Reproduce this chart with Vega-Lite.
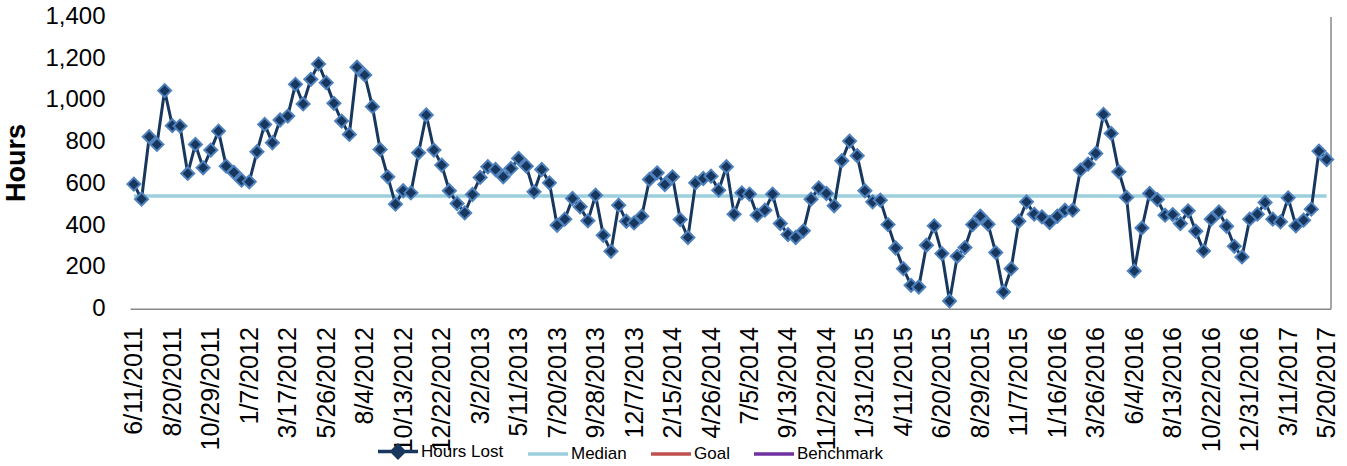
{
  "$schema": "https://vega.github.io/schema/vega-lite/v6.json",
  "autosize": {"type": "none"},
  "width": 1200.5,
  "height": 292.2,
  "padding": {"left": 130, "top": 16.5, "right": 16.5, "bottom": 157.3},
  "background": "white",
  "config": {"view": {"stroke": null}, "font": "Liberation Sans"},
  "data": {"values": [
    {"d":"6/11/2011","h":597,"m":540},{"d":"6/25/2011","h":525,"m":540},{"d":"7/9/2011","h":824,"m":540},{"d":"7/23/2011","h":787,"m":540},{"d":"8/6/2011","h":1045,"m":540},
    {"d":"8/20/2011","h":877,"m":540},{"d":"9/3/2011","h":875,"m":540},{"d":"9/17/2011","h":648,"m":540},{"d":"10/1/2011","h":787,"m":540},{"d":"10/15/2011","h":675,"m":540},
    {"d":"10/29/2011","h":760,"m":540},{"d":"11/12/2011","h":851,"m":540},{"d":"11/26/2011","h":683,"m":540},{"d":"12/10/2011","h":653,"m":540},{"d":"12/24/2011","h":616,"m":540},
    {"d":"1/7/2012","h":608,"m":540},{"d":"1/21/2012","h":752,"m":540},{"d":"2/4/2012","h":883,"m":540},{"d":"2/18/2012","h":795,"m":540},{"d":"3/3/2012","h":904,"m":540},
    {"d":"3/17/2012","h":923,"m":540},{"d":"3/31/2012","h":1075,"m":540},{"d":"4/14/2012","h":981,"m":540},{"d":"4/28/2012","h":1099,"m":540},{"d":"5/12/2012","h":1173,"m":540},
    {"d":"5/26/2012","h":1083,"m":540},{"d":"6/9/2012","h":984,"m":540},{"d":"6/23/2012","h":899,"m":540},{"d":"7/7/2012","h":835,"m":540},{"d":"7/21/2012","h":1157,"m":540},
    {"d":"8/4/2012","h":1120,"m":540},{"d":"8/18/2012","h":968,"m":540},{"d":"9/1/2012","h":763,"m":540},{"d":"9/15/2012","h":632,"m":540},{"d":"9/29/2012","h":501,"m":540},
    {"d":"10/13/2012","h":565,"m":540},{"d":"10/27/2012","h":555,"m":540},{"d":"11/10/2012","h":747,"m":540},{"d":"11/24/2012","h":928,"m":540},{"d":"12/8/2012","h":760,"m":540},
    {"d":"12/22/2012","h":688,"m":540},{"d":"1/5/2013","h":565,"m":540},{"d":"1/19/2013","h":504,"m":540},{"d":"2/2/2013","h":459,"m":540},{"d":"2/16/2013","h":547,"m":540},
    {"d":"3/2/2013","h":629,"m":540},{"d":"3/16/2013","h":680,"m":540},{"d":"3/30/2013","h":667,"m":540},{"d":"4/13/2013","h":632,"m":540},{"d":"4/27/2013","h":672,"m":540},
    {"d":"5/11/2013","h":720,"m":540},{"d":"5/25/2013","h":683,"m":540},{"d":"6/8/2013","h":560,"m":540},{"d":"6/22/2013","h":667,"m":540},{"d":"7/6/2013","h":603,"m":540},
    {"d":"7/20/2013","h":400,"m":540},{"d":"8/3/2013","h":429,"m":540},{"d":"8/17/2013","h":528,"m":540},{"d":"8/31/2013","h":488,"m":540},{"d":"9/14/2013","h":421,"m":540},
    {"d":"9/28/2013","h":544,"m":540},{"d":"10/12/2013","h":352,"m":540},{"d":"10/26/2013","h":275,"m":540},{"d":"11/9/2013","h":496,"m":540},{"d":"11/23/2013","h":419,"m":540},
    {"d":"12/7/2013","h":411,"m":540},{"d":"12/21/2013","h":443,"m":540},{"d":"1/4/2014","h":619,"m":540},{"d":"1/18/2014","h":651,"m":540},{"d":"2/1/2014","h":595,"m":540},
    {"d":"2/15/2014","h":632,"m":540},{"d":"3/1/2014","h":427,"m":540},{"d":"3/15/2014","h":341,"m":540},{"d":"3/29/2014","h":603,"m":540},{"d":"4/12/2014","h":624,"m":540},
    {"d":"4/26/2014","h":635,"m":540},{"d":"5/10/2014","h":568,"m":540},{"d":"5/24/2014","h":680,"m":540},{"d":"6/7/2014","h":453,"m":540},{"d":"6/21/2014","h":555,"m":540},
    {"d":"7/5/2014","h":549,"m":540},{"d":"7/19/2014","h":448,"m":540},{"d":"8/2/2014","h":472,"m":540},{"d":"8/16/2014","h":549,"m":540},{"d":"8/30/2014","h":408,"m":540},
    {"d":"9/13/2014","h":355,"m":540},{"d":"9/27/2014","h":341,"m":540},{"d":"10/11/2014","h":373,"m":540},{"d":"10/25/2014","h":525,"m":540},{"d":"11/8/2014","h":579,"m":540},
    {"d":"11/22/2014","h":552,"m":540},{"d":"12/6/2014","h":493,"m":540},{"d":"12/20/2014","h":709,"m":540},{"d":"1/3/2015","h":803,"m":540},{"d":"1/17/2015","h":733,"m":540},
    {"d":"1/31/2015","h":565,"m":540},{"d":"2/14/2015","h":512,"m":540},{"d":"2/28/2015","h":520,"m":540},{"d":"3/14/2015","h":403,"m":540},{"d":"3/28/2015","h":291,"m":540},
    {"d":"4/11/2015","h":192,"m":540},{"d":"4/25/2015","h":112,"m":540},{"d":"5/9/2015","h":104,"m":540},{"d":"5/23/2015","h":304,"m":540},{"d":"6/6/2015","h":397,"m":540},
    {"d":"6/20/2015","h":264,"m":540},{"d":"7/4/2015","h":37,"m":540},{"d":"7/18/2015","h":251,"m":540},{"d":"8/1/2015","h":293,"m":540},{"d":"8/15/2015","h":403,"m":540},
    {"d":"8/29/2015","h":443,"m":540},{"d":"9/12/2015","h":405,"m":540},{"d":"9/26/2015","h":269,"m":540},{"d":"10/10/2015","h":80,"m":540},{"d":"10/24/2015","h":192,"m":540},
    {"d":"11/7/2015","h":419,"m":540},{"d":"11/21/2015","h":512,"m":540},{"d":"12/5/2015","h":453,"m":540},{"d":"12/19/2015","h":440,"m":540},{"d":"1/2/2016","h":413,"m":540},
    {"d":"1/16/2016","h":443,"m":540},{"d":"1/30/2016","h":472,"m":540},{"d":"2/13/2016","h":472,"m":540},{"d":"2/27/2016","h":664,"m":540},{"d":"3/12/2016","h":693,"m":540},
    {"d":"3/26/2016","h":744,"m":540},{"d":"4/9/2016","h":931,"m":540},{"d":"4/23/2016","h":840,"m":540},{"d":"5/7/2016","h":656,"m":540},{"d":"5/21/2016","h":533,"m":540},
    {"d":"6/4/2016","h":181,"m":540},{"d":"6/18/2016","h":387,"m":540},{"d":"7/2/2016","h":552,"m":540},{"d":"7/16/2016","h":523,"m":540},{"d":"7/30/2016","h":448,"m":540},
    {"d":"8/13/2016","h":451,"m":540},{"d":"8/27/2016","h":408,"m":540},{"d":"9/10/2016","h":469,"m":540},{"d":"9/24/2016","h":371,"m":540},{"d":"10/8/2016","h":277,"m":540},
    {"d":"10/22/2016","h":429,"m":540},{"d":"11/5/2016","h":464,"m":540},{"d":"11/19/2016","h":395,"m":540},{"d":"12/3/2016","h":299,"m":540},{"d":"12/17/2016","h":248,"m":540},
    {"d":"12/31/2016","h":429,"m":540},{"d":"1/14/2017","h":453,"m":540},{"d":"1/28/2017","h":509,"m":540},{"d":"2/11/2017","h":429,"m":540},{"d":"2/25/2017","h":416,"m":540},
    {"d":"3/11/2017","h":531,"m":540},{"d":"3/25/2017","h":397,"m":540},{"d":"4/8/2017","h":424,"m":540},{"d":"4/22/2017","h":477,"m":540},{"d":"5/6/2017","h":755,"m":540},
    {"d":"5/20/2017","h":715,"m":540}
  ]},
  "encoding": {
    "x": {
      "field": "d", "type": "ordinal", "sort": null,
      "scale": {"type": "point", "padding": 0.5},
      "axis": {
        "values": ["6/11/2011","8/20/2011","10/29/2011","1/7/2012","3/17/2012","5/26/2012","8/4/2012","10/13/2012","12/22/2012","3/2/2013","5/11/2013","7/20/2013","9/28/2013","12/7/2013","2/15/2014","4/26/2014","7/5/2014","9/13/2014","11/22/2014","1/31/2015","4/11/2015","6/20/2015","8/29/2015","11/7/2015","1/16/2016","3/26/2016","6/4/2016","8/13/2016","10/22/2016","12/31/2016","3/11/2017","5/20/2017"],
        "labelAngle": -90, "labelFontSize": 25, "labelColor": "#000", "labelPadding": 18,
        "ticks": false, "grid": false, "domainColor": "#888", "domainWidth": 1.5, "title": null,
        "labelOverlap": false
      }
    }
  },
  "layer": [
    {
      "mark": {"type": "line", "color": "#9BCFDE", "strokeWidth": 3.3},
      "encoding": {
        "y": {"field": "m", "type": "quantitative", "scale": {"domain": [0, 1400]},
          "axis": {"orient": "right", "labels": false, "ticks": false, "grid": false, "title": null, "domainColor": "#888", "domainWidth": 1.5}}
      }
    },
    {
      "mark": {"type": "line", "strokeWidth": 3},
      "encoding": {
        "y": {"field": "h", "type": "quantitative",
          "axis": {"orient": "left", "title": "Hours", "titleFontSize": 27, "titleFontWeight": "bold", "titleColor": "#000", "titlePadding": 14,
            "values": [0,200,400,600,800,1000,1200,1400], "format": ",d", "labelFontSize": 24, "labelColor": "#000", "labelPadding": 25,
            "ticks": false, "domain": false, "gridColor": "#888", "gridWidth": 1.5, "gridOpacity": 1}},
        "color": {
          "datum": "Hours Lost",
          "scale": {"domain": ["Hours Lost", "Median", "Goal", "Benchmark"], "range": ["#17375E", "#9BCFDE", "#C0504D", "#7030A0"]},
          "legend": {
            "title": null, "orient": "none", "direction": "horizontal", "legendX": 246, "legendY": 413, "padding": 0,
            "symbolType": "stroke", "symbolSize": 1600, "symbolStrokeWidth": 3.5,
            "labelFont": "Liberation Sans", "labelFontSize": 17, "labelColor": "#000", "labelOffset": 1, "columnPadding": 17,
            "encoding": {
              "symbols": {
                "shape": {"condition": {"test": "datum.value === 'Hours Lost'", "value": "M-1,0H1M-0.3,0L0,-0.3L0.3,0L0,0.3Z"}, "value": "M-1,0H1"},
                "fill": {"condition": {"test": "datum.value === 'Hours Lost'", "value": "#17375E"}, "value": "transparent"}
              }
            }
          }
        }
      }
    },
    {
      "mark": {"type": "point", "shape": "diamond", "filled": true, "size": 169, "fill": "#17375E", "stroke": "#4F81BD", "strokeWidth": 2, "opacity": 1},
      "encoding": {
        "y": {"field": "h", "type": "quantitative", "axis": null}
      }
    }
  ],
  "resolve": {"axis": {"y": "independent"}}
}
